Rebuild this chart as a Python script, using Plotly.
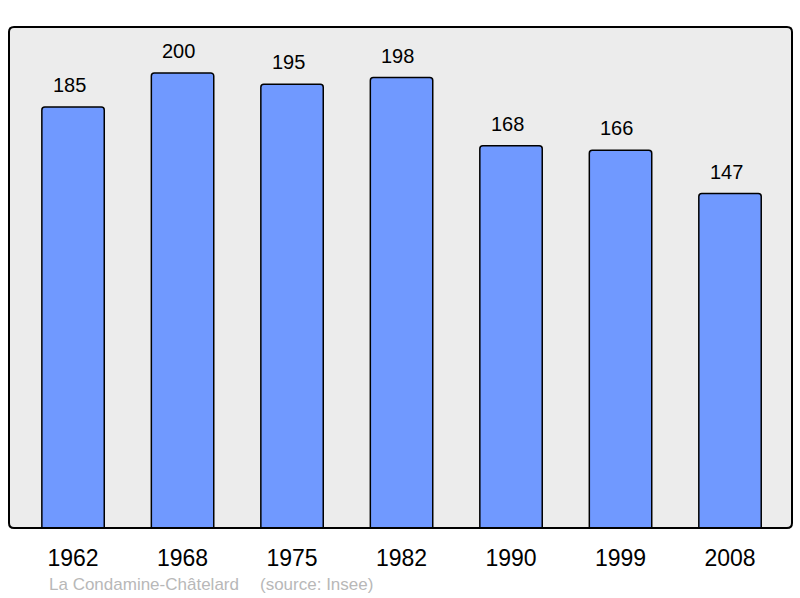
import plotly.graph_objects as go

years = ["1962", "1968", "1975", "1982", "1990", "1999", "2008"]
population = [185, 200, 195, 198, 168, 166, 147]

W, H = 800, 598
L, R, T, B = 9, 8, 27, 70
pw, ph = W - L - R, H - T - B
FONT = "Liberation Sans, Arial, sans-serif"

fig = go.Figure()
fig.add_trace(go.Bar(
    x=list(range(len(years))), y=population,
    width=0.57,
    marker=dict(color="#7099ff", line=dict(color="#000000", width=1.5), cornerradius=3),
    hoverinfo="skip",
))

for i, v in enumerate(population):
    fig.add_annotation(x=i, y=v, text=str(v), showarrow=False, yanchor="bottom", yshift=9, xshift=-4,
                       font=dict(size=20, color="#000000", family=FONT))

rx, ry = 5 / pw, 5 / ph
path = (f"M {rx},0 L {1-rx},0 Q 1,0 1,{ry} L 1,{1-ry} Q 1,1 {1-rx},1 "
        f"L {rx},1 Q 0,1 0,{1-ry} L 0,{ry} Q 0,0 {rx},0 Z")
fig.add_shape(type="path", xref="paper", yref="paper", path=path,
              line=dict(color="#000000", width=2), fillcolor="rgba(0,0,0,0)", layer="above")

fy = (T + ph - 584) / ph
fig.add_annotation(xref="paper", yref="paper", x=(47 - L) / pw, y=fy,
                   text="La Condamine-Châtelard", showarrow=False, xanchor="left", yanchor="middle",
                   font=dict(size=17, color="#b8b8b8", family=FONT))
fig.add_annotation(xref="paper", yref="paper", x=(258 - L) / pw, y=fy,
                   text="(source: Insee)", showarrow=False, xanchor="left", yanchor="middle",
                   font=dict(size=17, color="#b8b8b8", family=FONT))

fig.update_layout(
    width=W, height=H,
    margin=dict(l=L, r=R, t=T, b=B),
    paper_bgcolor="#ffffff", plot_bgcolor="#ececec",
    showlegend=False,
    font=dict(family=FONT, color="#000000"),
)
fig.update_xaxes(range=[-0.585, 6.566], tickvals=list(range(len(years))), ticktext=years,
                 tickfont=dict(size=23), ticks="outside", ticklen=9, tickcolor="rgba(0,0,0,0)",
                 showgrid=False, zeroline=False, showline=False, fixedrange=True)
fig.update_yaxes(range=[0, 220.2], showticklabels=False, showgrid=False, zeroline=False,
                 showline=False, fixedrange=True)

fig.write_html("out.html", config={"displayModeBar": False},
               post_script="document.body.style.margin='0';document.body.style.overflow='hidden';")
